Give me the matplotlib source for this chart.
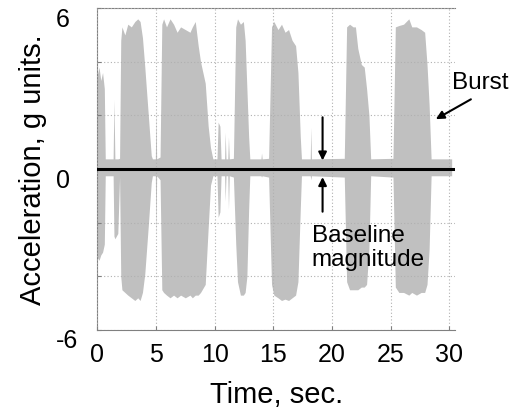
import matplotlib
matplotlib.use("Agg")
import matplotlib.pyplot as plt
from matplotlib.transforms import ScaledTranslation

plt.rcParams['font.family'] = ['Liberation Sans', 'DejaVu Sans']

# Envelope of the acceleration signal
env_t = [0.00, 0.15, 0.30, 0.45, 0.60, 0.68, 1.35, 1.42, 1.50, 1.75, 1.90,
         2.00, 2.10, 2.35, 2.60, 2.90, 3.20, 3.45, 3.65, 3.85, 4.05, 4.35, 4.60, 4.70,
         4.95, 5.00, 5.06, 5.35,
         5.50, 5.65, 5.90, 6.20, 6.50, 6.80, 7.10, 7.50, 7.90, 8.10, 8.35, 8.60, 8.80,
         9.20, 9.45, 9.65, 9.85,
         10.20, 10.30, 10.45, 10.55, 10.85, 10.90, 10.97, 11.12, 11.18, 11.25, 11.60,
         11.80, 11.95, 12.20, 12.45, 12.60, 12.75, 12.90, 13.00,
         13.95, 14.00, 14.05, 14.60,
         14.85, 15.05, 15.40, 15.70, 16.00, 16.30, 16.60, 16.90, 17.10, 17.30, 17.40,
         18.15, 18.20, 18.25, 21.05,
         21.25, 21.50, 21.80, 22.00, 22.20, 22.50, 22.75, 22.95, 23.15, 23.30,
         25.20, 25.40, 25.70, 26.10, 26.55, 26.80, 27.20, 27.60, 27.90, 28.10, 28.28,
         28.45, 30.20]
env_hi = [3.5, 3.8, 3.3, 3.6, 3.0, 0.38, 0.38, 2.6, 0.38, 0.38, 0.40,
          4.8, 5.3, 5.0, 5.4, 5.3, 5.5, 5.6, 5.5, 4.9, 3.8, 2.0, 0.5, 0.38,
          0.38, 2.2, 0.38, 0.45,
          5.4, 5.6, 5.3, 5.6, 5.4, 5.1, 5.3, 5.2, 5.1, 5.3, 5.5, 4.6, 4.0,
          3.2, 1.6, 0.8, 0.38,
          0.38, 1.75, 1.6, 0.38, 0.38, 1.37, 0.38, 0.38, 1.2, 0.38, 0.40,
          5.3, 5.6, 5.4, 5.5, 4.8, 3.0, 1.2, 0.38,
          0.38, 0.6, 0.38, 0.40,
          5.3, 5.5, 5.2, 5.4, 5.1, 5.2, 4.8, 4.6, 3.6, 1.2, 0.38,
          0.38, 1.56, 0.38, 0.40,
          5.3, 5.4, 5.3, 5.3, 4.5, 3.9, 3.8, 3.0, 2.0, 0.38,
          0.40, 5.3, 5.35, 5.4, 5.6, 5.3, 5.3, 5.2, 5.1, 3.9, 2.4,
          0.38, 0.38]
env_lo = [-3.3, -3.4, -3.2, -3.1, -2.8, -0.25, -0.25, -2.5, -2.6, -2.4, -0.30,
          -4.0, -4.5, -4.6, -4.7, -4.8, -4.9, -4.8, -4.9, -4.6, -3.9, -2.1, -0.5, -0.25,
          -0.25, -2.6, -0.25, -0.40,
          -4.5, -4.6, -4.7, -4.8, -4.7, -4.8, -4.7, -4.8, -4.7, -4.8, -4.7, -4.7, -4.6,
          -4.3, -2.2, -0.6, -0.25,
          -0.25, -1.8, -1.6, -0.25, -0.25, -1.2, -0.25, -0.25, -1.5, -0.25, -0.30,
          -2.8, -4.2, -4.7, -4.7, -4.6, -4.0, -1.5, -0.25,
          -0.25, -0.30, -0.25, -0.30,
          -4.3, -4.7, -4.8, -4.9, -4.85, -4.9, -4.8, -4.7, -4.2, -1.5, -0.25,
          -0.25, -0.40, -0.25, -0.30,
          -4.2, -4.5, -4.5, -4.5, -4.5, -4.4, -4.4, -4.3, -3.0, -0.25,
          -0.30, -4.4, -4.6, -4.6, -4.7, -4.6, -4.7, -4.6, -4.6, -4.3, -3.0,
          -0.25, -0.25]

# Baseline magnitude line
base_t = [0.0, 30.3]
base_y = [0.0, 0.0]

x_ticks = [0, 5, 10, 15, 20, 25, 30]
x_ticklabels = ['0', '5', '10', '15', '20', '25', '30']
y_ticks = [-6, -4, -2, 0, 2, 4, 6]
y_ticklabels = ['-6', '', '', '0', '', '', '6']

fig = plt.figure(figsize=(5.12, 4.14), dpi=100)
ax = fig.add_axes([0.19, 0.2005, 0.699, 0.7775])

ax.fill_between(env_t, env_lo, env_hi, color='#c0c0c0', linewidth=0, zorder=1)
ax.plot(base_t, base_y, color='black', linewidth=2.2, zorder=3)

ax.set_xlim(0, 30.5)
ax.set_ylim(-6, 6)
ax.set_xticks(x_ticks)
ax.set_xticklabels(x_ticklabels, fontsize=18)
ax.set_yticks(y_ticks)
ax.set_yticklabels(y_ticklabels, fontsize=18)
ax.tick_params(axis='both', direction='in', length=3, color='#808080', width=0.8)
ax.tick_params(axis='x', pad=9)
ax.tick_params(axis='y', pad=30)
for lab in ax.get_yticklabels():
    lab.set_horizontalalignment('left')
    lab.set_transform(lab.get_transform() + ScaledTranslation(0, -8 / 100, fig.dpi_scale_trans))

ax.grid(True, linestyle=(0, (1, 2)), color='#b0b0b0', linewidth=0.8, zorder=2)
ax.set_axisbelow(False)

for s in ['left', 'bottom', 'top']:
    ax.spines[s].set_color('#808080')
    ax.spines[s].set_linewidth(0.8)
ax.spines['right'].set_visible(False)

ax.set_xlabel('Time, sec.', fontsize=21, labelpad=10)
ax.set_ylabel('Acceleration, g units.', fontsize=21, labelpad=6)

arrow_kw = dict(arrowstyle='-|>', color='black', lw=1.5, mutation_scale=12,
                shrinkA=0, shrinkB=0)
ax.annotate('', xy=(19.2, 0.32), xytext=(19.2, 1.93), arrowprops=arrow_kw)
ax.annotate('', xy=(19.2, -0.30), xytext=(19.2, -1.59), arrowprops=arrow_kw)
ax.text(18.27, -2.9, 'Baseline\nmagnitude', fontsize=17.5, ha='left', va='center',
        linespacing=1.15)

ax.annotate('', xy=(28.85, 1.86), xytext=(31.84, 2.6), arrowprops=arrow_kw,
            annotation_clip=False)
ax.text(30.2, 3.25, 'Burst', fontsize=17.5, ha='left', va='center', clip_on=False)

fig.savefig('out.png', dpi=100)
